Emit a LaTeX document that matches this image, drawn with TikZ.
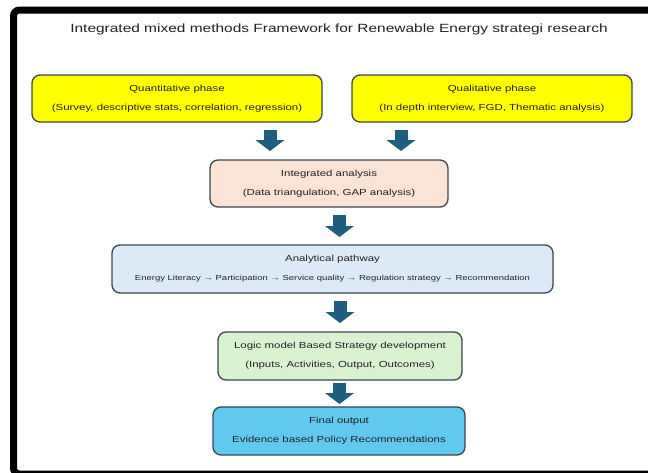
\documentclass[tikz,border=0pt]{standalone}
\usepackage{fontspec}
\setmainfont[FakeStretch=1.3]{Liberation Sans}
\usetikzlibrary{arrows.meta}
\definecolor{boxline}{HTML}{3B4650}
\definecolor{textc}{HTML}{222222}
\definecolor{arrowc}{HTML}{1E5F80}
\definecolor{yel}{HTML}{FFFF00}
\definecolor{peach}{HTML}{FBE3D6}
\definecolor{lblue}{HTML}{DCEAF7}
\definecolor{lgreen}{HTML}{D9F2D0}
\definecolor{sky}{HTML}{5FC9F0}
\begin{document}
\begin{tikzpicture}[x=1pt,y=-1pt,
  box/.style={draw=boxline, line width=1.3pt, rounded corners=8pt, inner sep=0pt,
    align=center, font=\fontsize{8.8}{19}\selectfont, text=textc},
  flow/.style={arrowc, line width=13pt, -{Triangle[width=29pt,length=11pt,line width'=0pt]}}]
\clip (0,0) rectangle (648,472);
\fill[white] (0,0) rectangle (648,472);
% frame
\draw[black, line width=7pt, rounded corners=6pt] (13.5,10) rectangle (660,474);
% title
\node[font=\fontsize{11.9}{14}\selectfont, text=textc] (title) at (339,29) {Integrated mixed methods Framework for Renewable Energy strategi research};
% boxes
\node[box, fill=yel, minimum width=290pt, minimum height=47pt] (quant) at (177,98.5)
  {Quantitative phase\\(Survey, descriptive stats, correlation, regression)};
\node[box, fill=yel, minimum width=280pt, minimum height=47pt] (qual) at (492,98.5)
  {Qualitative phase\\(In depth interview, FGD, Thematic analysis)};
\node[box, fill=peach, minimum width=238pt, minimum height=47pt] (integ) at (329,183.5)
  {Integrated analysis\\(Data triangulation, GAP analysis)};
\node[box, fill=lblue, minimum width=441pt, minimum height=48pt] (path) at (332.5,269)
  {Analytical pathway\\{\fontsize{7.3}{10}\selectfont Energy Literacy → Participation → Service quality → Regulation strategy → Recommendation}};
\node[box, fill=lgreen, minimum width=244pt, minimum height=48pt] (logic) at (340,356)
  {Logic model Based Strategy development\\(Inputs, Activities, Output, Outcomes)};
\node[box, fill=sky, minimum width=252pt, minimum height=48pt] (final) at (339,431)
  {Final output\\Evidence based Policy Recommendations};
% arrows
\coordinate (a1s) at (270,130); \coordinate (a1e) at (270,151);
\coordinate (a2s) at (401,130); \coordinate (a2e) at (401,151);
\coordinate (a3s) at (339.5,215); \coordinate (a3e) at (339.5,237);
\coordinate (a4s) at (340,301); \coordinate (a4e) at (340,323);
\coordinate (a5s) at (339.5,383); \coordinate (a5e) at (339.5,404);
\draw[flow] (a1s) -- (a1e);
\draw[flow] (a2s) -- (a2e);
\draw[flow] (a3s) -- (a3e);
\draw[flow] (a4s) -- (a4e);
\draw[flow] (a5s) -- (a5e);
\end{tikzpicture}
\end{document}
